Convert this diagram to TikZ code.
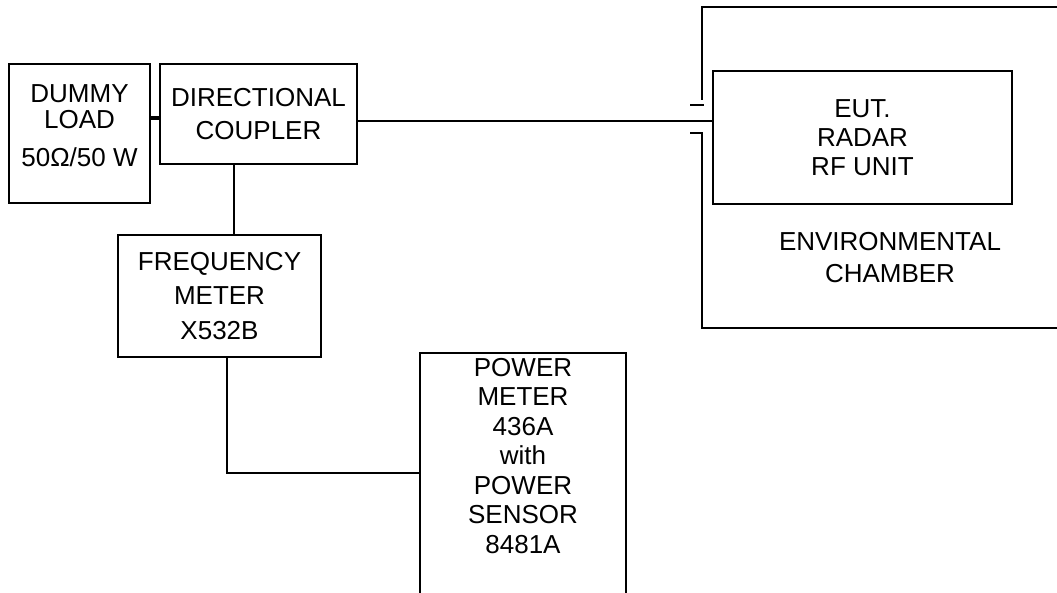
\documentclass[tikz,border=0pt]{standalone}
\usepackage{fontspec}
\setmainfont{Liberation Sans}
\usetikzlibrary{positioning,calc}
\tikzset{
  unitbox/.style={
    draw,
    rectangle,
    line width=1.8pt,
    inner sep=0pt,
    align=center,
    font=\fontsize{26}{30}\selectfont
  },
  caption/.style={
    inner sep=0pt,
    align=center,
    font=\fontsize{26}{30}\selectfont
  },
  txt/.style={font=\fontsize{26}{#1}\selectfont},
  link/.style={line width=1.8pt},
  stub/.style={line width=4pt},
  wall/.style={line width=1.8pt}
}

\begin{document}
\begin{tikzpicture}[x=1pt,y=-1pt]
\useasboundingbox (0,0) rectangle (1057,593);

\node[unitbox, minimum width=141pt, minimum height=139pt] (load) at (79.5,133.5) {};
\node[caption, txt=26, below=21pt of load.north] (loadtext) {DUMMY\\LOAD\\[12pt]50Ω/50 W};

\node[unitbox, txt=33, minimum width=197pt, minimum height=100pt] (coupler) at (258.5,114) {DIRECTIONAL\\COUPLER};
\node[unitbox, txt=34.5, minimum width=203pt, minimum height=122pt] (freq) at (219.5,296) {FREQUENCY\\METER\\X532B};
\node[unitbox, txt=29, minimum width=299pt, minimum height=133pt] (eut) at (862.5,137.5) {EUT.\\RADAR\\RF UNIT};

% power meter runs off the bottom edge
\node[minimum width=206pt, minimum height=240pt, inner sep=0pt] (pm) at (523,473) {};
\draw[link] (pm.south west) -- (pm.north west) -- (pm.north east) -- (pm.south east);
\node[caption, txt=29.5, below=5pt of pm.north] (pmtext) {POWER\\METER\\436A\\with\\POWER\\SENSOR\\8481A};

% chamber walls
\draw[wall] (702,100) -- (702,7) -- (1057,7);
\draw[wall] (690,105) -- (704,105);
\draw[wall] (690,133) -- (702,133) -- (702,328) -- (1057,328);
\node[caption, txt=32] (chamber) at (890,257.5) {ENVIRONMENTAL\\CHAMBER};

\coordinate (loadport) at ([yshift=15.5pt]load.east);
\coordinate (cplout) at ([yshift=-7pt]coupler.east);
\coordinate (cpltap) at ([xshift=-24.5pt]coupler.south);
\coordinate (freqout) at ([xshift=7.5pt]freq.south);

\draw[stub] (loadport) -- (loadport -| coupler.west);
\draw[link] (cplout) -- (cplout -| eut.west);
\draw[link] (cpltap) -- (cpltap |- freq.north);
\draw[link] (freqout) |- (pm.west);
\end{tikzpicture}
\end{document}
